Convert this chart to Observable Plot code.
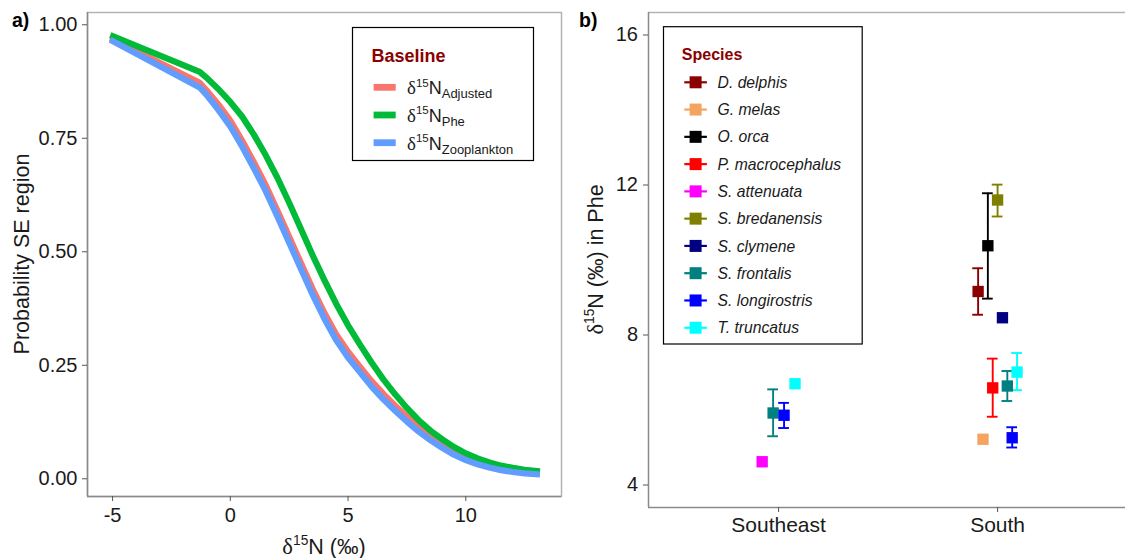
<!DOCTYPE html>
<html>
<head>
<meta charset="utf-8">
<script src="https://cdn.jsdelivr.net/npm/d3@7"></script>
<script src="https://cdn.jsdelivr.net/npm/@observablehq/plot@0.6"></script>
<style>
html,body{margin:0;padding:0;background:#fff;}
#wrap{position:relative;width:1125px;height:558px;overflow:hidden;font-family:"Liberation Sans",Arial,sans-serif;}
#wrap > svg{position:absolute;}
</style>
</head>
<body>
<div id="wrap"></div>
<script>
// ---------- Panel a) data ----------
const probX = [-5.1, -1.3, -1, -0.5, 0, 0.5, 1, 1.5, 2, 2.5, 3, 3.5, 4, 4.5, 5, 5.5, 6, 6.5, 7, 7.5, 8, 8.5, 9, 9.5, 10, 10.5, 11, 11.5, 12, 12.5, 13.15];
const probAdjusted = [0.971, 0.872, 0.855, 0.824, 0.789, 0.745, 0.697, 0.647, 0.591, 0.533, 0.475, 0.418, 0.365, 0.318, 0.280, 0.247, 0.215, 0.187, 0.161, 0.137, 0.115, 0.096, 0.078, 0.063, 0.050, 0.040, 0.032, 0.025, 0.020, 0.016, 0.013];
const probPhe = [0.977, 0.896, 0.883, 0.858, 0.830, 0.798, 0.758, 0.713, 0.663, 0.608, 0.550, 0.492, 0.437, 0.385, 0.338, 0.296, 0.256, 0.219, 0.186, 0.156, 0.129, 0.106, 0.087, 0.070, 0.056, 0.045, 0.036, 0.029, 0.024, 0.020, 0.0165];
const probZooplankton = [0.967, 0.862, 0.845, 0.812, 0.776, 0.732, 0.684, 0.634, 0.578, 0.520, 0.462, 0.405, 0.352, 0.305, 0.267, 0.235, 0.203, 0.175, 0.150, 0.126, 0.104, 0.085, 0.068, 0.053, 0.041, 0.032, 0.025, 0.019, 0.015, 0.012, 0.0095];
const baselineKeys = ["Adjusted", "Phe", "Zooplankton"];
const baselineColors = ["#F8766D", "#00BA38", "#619CFF"];
const probTicks = [0, 0.25, 0.5, 0.75, 1];
const d15Ticks = [-5, 0, 5, 10];

// ---------- Panel b) data ----------
const speciesNames = ["D. delphis", "G. melas", "O. orca", "P. macrocephalus", "S. attenuata", "S. bredanensis", "S. clymene", "S. frontalis", "S. longirostris", "T. truncatus"];
const speciesColors = ["#8B0000", "#F4A460", "#000000", "#FF0000", "#FF00FF", "#808000", "#000080", "#008080", "#0000FF", "#00FFFF"];
const regionNames = ["Southeast", "South"];
const obsRegion  = ["Southeast", "Southeast", "Southeast", "Southeast", "South", "South", "South", "South", "South", "South", "South", "South", "South"];
const obsSpecies = ["S. attenuata", "S. frontalis", "S. longirostris", "T. truncatus", "D. delphis", "G. melas", "O. orca", "P. macrocephalus", "S. bredanensis", "S. clymene", "S. frontalis", "S. longirostris", "T. truncatus"];
const obsMean = [4.62, 5.92, 5.86, 6.70, 9.16, 5.22, 10.38, 6.59, 11.60, 8.46, 6.64, 5.26, 7.01];
const obsLow  = [null, 5.30, 5.52, null, 8.54, null, 8.97, 5.82, 11.16, null, 6.24, 5.00, 6.53];
const obsHigh = [null, 6.55, 6.19, null, 9.78, null, 11.78, 7.37, 12.01, null, 7.04, 5.54, 7.52];
const pheTicks = [4, 8, 12, 16];

// ---------- styling constants ----------
const FONT = "Liberation Sans, Arial, sans-serif";
const SERIF = "Liberation Serif, DejaVu Serif, serif";
const frameGrey = "#b3b3b3";
const axisGrey = "#8a8a8a";
const tickGrey = "#555";
const wrap = document.getElementById("wrap");

// ---------- Panel a) ----------
const curves = [probAdjusted, probPhe, probZooplankton];
const curveData = [];
baselineKeys.forEach((b, i) => probX.forEach((x, j) => curveData.push({baseline: b, x, p: curves[i][j]})));

const xDomA = [-6.065, 14.065];
const yDomA = [-0.039, 1.027];
const left = Plot.plot({
  width: 575, height: 558,
  marginLeft: 87, marginRight: 14, marginTop: 12, marginBottom: 62,
  style: {fontFamily: FONT, fontSize: "20px", background: "transparent", color: "#1a1a1a"},
  x: {domain: xDomA, axis: null},
  y: {domain: yDomA, axis: null},
  color: {domain: baselineKeys, range: baselineColors},
  marks: [
    Plot.frame({stroke: frameGrey, strokeWidth: 1.5}),
    Plot.ruleX([xDomA[0]], {stroke: axisGrey, strokeWidth: 1.5}),
    Plot.ruleY([yDomA[0]], {stroke: axisGrey, strokeWidth: 1.5}),
    Plot.line(curveData, {x: "x", y: "p", z: "baseline", stroke: "baseline", strokeWidth: 6.2, strokeLinejoin: "round", strokeLinecap: "butt"}),
    Plot.axisX({ticks: d15Ticks, tickFormat: d => String(d), tickSize: 5, tickPadding: 6, fontSize: 20, label: null, stroke: tickGrey, fill: "#1a1a1a"}),
    Plot.axisY({ticks: probTicks, tickFormat: d3.format(".2f"), tickSize: 5, tickPadding: 5, fontSize: 20, label: null, stroke: tickGrey, fill: "#1a1a1a"})
  ]
});
left.style.left = "0px"; left.style.top = "0px";
wrap.appendChild(left);

// ---------- Panel b) ----------
const obs = obsMean.map((m, i) => ({region: obsRegion[i], species: obsSpecies[i], mean: m, lo: obsLow[i], hi: obsHigh[i]}));
// position dodge (width 0.2) within each region, species in legend order
const dodgeWidth = 0.2;
for (const [reg, rows] of d3.group(obs, d => d.region)) {
  rows.sort((a, b) => speciesNames.indexOf(a.species) - speciesNames.indexOf(b.species));
  const n = rows.length, c = regionNames.indexOf(reg) + 1;
  rows.forEach((d, k) => { d.x = c + (k - (n - 1) / 2) * dodgeWidth / n; });
}
const errs = obs.filter(d => d.lo != null);
const cap = 0.0245;
const xDomB = [0.406, 0.406 + 477 / 219];
const yDomB = [3.4, 16.6];
const right = Plot.plot({
  width: 550, height: 558,
  marginLeft: 73, marginRight: 0, marginTop: 12, marginBottom: 51,
  style: {fontFamily: FONT, fontSize: "20px", background: "transparent", color: "#1a1a1a"},
  x: {type: "linear", domain: xDomB, axis: null},
  y: {domain: yDomB, axis: null},
  color: {domain: speciesNames, range: speciesColors},
  marks: [
    Plot.ruleY([yDomB[1]], {stroke: frameGrey, strokeWidth: 1.5}),
    Plot.ruleX([xDomB[0]], {stroke: axisGrey, strokeWidth: 1.5}),
    Plot.ruleY([yDomB[0]], {stroke: axisGrey, strokeWidth: 1.5}),
    Plot.ruleX(errs, {x: "x", y1: "lo", y2: "hi", stroke: "species", strokeWidth: 1.9}),
    Plot.ruleY(errs, {y: "lo", x1: d => d.x - cap, x2: d => d.x + cap, stroke: "species", strokeWidth: 1.9}),
    Plot.ruleY(errs, {y: "hi", x1: d => d.x - cap, x2: d => d.x + cap, stroke: "species", strokeWidth: 1.9}),
    Plot.dot(obs, {x: "x", y: "mean", symbol: "square", r: 6.4, fill: "species", stroke: null}),
    Plot.axisX({ticks: [1, 2], tickFormat: d => regionNames[d - 1], tickSize: 5, tickPadding: 4.5, fontSize: 21, label: null, stroke: tickGrey, fill: "#1a1a1a"}),
    Plot.axisY({ticks: pheTicks, tickFormat: d => String(d), tickSize: 5, tickPadding: 5.5, fontSize: 20, label: null, stroke: tickGrey, fill: "#1a1a1a"})
  ]
});
right.style.left = "575px"; right.style.top = "0px";
wrap.appendChild(right);

// ---------- Overlay: titles, axis titles, legends ----------
const ov = d3.create("svg").attr("width", 1125).attr("height", 558)
  .style("left", "0px").style("top", "0px").style("pointer-events", "none")
  .attr("font-family", FONT).style("white-space", "pre");

function deltaText(g, {x, y, size, anchor = "start", transform = null, tail = "", sub = null, subSize = 13}) {
  const t = g.append("text").attr("x", x).attr("y", y).attr("font-size", size)
    .attr("text-anchor", anchor).attr("fill", "#1a1a1a");
  if (transform) t.attr("transform", transform);
  t.append("tspan").attr("font-family", SERIF).attr("font-size", size * 1.05).text("δ");
  t.append("tspan").attr("font-size", size * 0.64).attr("dy", -size * 0.42).text("15");
  t.append("tspan").attr("dy", size * 0.42).text("N" + tail);
  if (sub) t.append("tspan").attr("font-size", subSize).attr("dy", 4).text(sub);
  return t;
}

// panel letters
ov.append("text").attr("x", 12).attr("y", 27).attr("font-size", 19.5).attr("font-weight", "bold").attr("fill", "#000").text("a)");
ov.append("text").attr("x", 579).attr("y", 27).attr("font-size", 19.5).attr("font-weight", "bold").attr("fill", "#000").text("b)");

// axis titles panel a
ov.append("text").attr("transform", "translate(28.5,254) rotate(-90)").attr("text-anchor", "middle")
  .attr("font-size", 21.5).attr("fill", "#1a1a1a").text("Probability SE region");
deltaText(ov, {x: 324, y: 554, size: 21.5, anchor: "middle", tail: " (‰)"});

// axis titles panel b
deltaText(ov, {x: 0, y: 0, size: 21.5, anchor: "middle", transform: "translate(603,259.5) rotate(-90)", tail: " (‰) in Phe"});

// legend a
const la = ov.append("g");
la.append("rect").attr("x", 352.5).attr("y", 27.5).attr("width", 181).attr("height", 133)
  .attr("fill", "#fff").attr("stroke", "#000").attr("stroke-width", 1.2);
la.append("text").attr("x", 371.5).attr("y", 61.5).attr("font-size", 18).attr("font-weight", "bold")
  .attr("fill", "#8B0000").text("Baseline");
baselineKeys.forEach((k, i) => {
  const cy = 87.3 + i * 27.7;
  la.append("line").attr("x1", 373.6).attr("x2", 395.7).attr("y1", cy).attr("y2", cy)
    .attr("stroke", baselineColors[i]).attr("stroke-width", 6.8);
  deltaText(la, {x: 407, y: cy + 7, size: 18, sub: k, subSize: 13});
});

// legend b
const lb = ov.append("g");
lb.append("rect").attr("x", 663.5).attr("y", 26.7).attr("width", 198.7).attr("height", 317.3)
  .attr("fill", "#fff").attr("stroke", "#000").attr("stroke-width", 1.2);
lb.append("text").attr("x", 681.8).attr("y", 59.5).attr("font-size", 16).attr("font-weight", "bold")
  .attr("fill", "#8B0000").text("Species");
speciesNames.forEach((s, i) => {
  const cy = 82.3 + i * 27.27;
  lb.append("line").attr("x1", 684.3).attr("x2", 706.9).attr("y1", cy).attr("y2", cy)
    .attr("stroke", speciesColors[i]).attr("stroke-width", 2.2);
  lb.append("rect").attr("x", 695.6 - 6).attr("y", cy - 6).attr("width", 12).attr("height", 12)
    .attr("fill", speciesColors[i]);
  lb.append("text").attr("x", 717.6).attr("y", cy + 5.6).attr("font-size", 15.7)
    .attr("font-style", "italic").attr("fill", "#1a1a1a").text(s);
});

wrap.appendChild(ov.node());
</script>
</body>
</html>
